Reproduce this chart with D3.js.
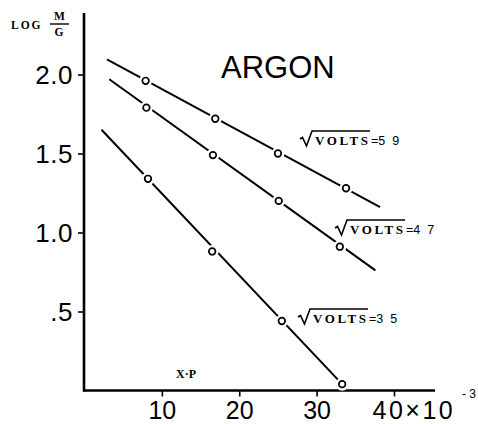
<!DOCTYPE html>
<html>
<head>
<meta charset="utf-8">
<script src="https://cdn.jsdelivr.net/npm/d3@7"></script>
<style>
  html, body { margin: 0; padding: 0; background: #fff; }
  svg { display: block; }
</style>
</head>
<body>
<svg id="chart" width="478" height="424"></svg>
<script>
// ---- data ----
const seriesNames = ["5 9", "4 7", "3 5"];               // sqrt(volts) labels
const xpValues59 = [7.9, 16.9, 25.0, 33.8];
const logMG59    = [1.96, 1.72, 1.50, 1.28];
const xpValues47 = [8.0, 16.6, 25.1, 33.0];
const logMG47    = [1.79, 1.49, 1.20, 0.91];
const xpValues35 = [8.2, 16.5, 25.5, 33.3];
const logMG35    = [1.34, 0.88, 0.44, 0.04];
// fitted (hand-drawn) line end points [x, y]
const fitLine59 = [[2.9, 2.095], [38.2, 1.16]];
const fitLine47 = [[3.2, 1.97], [37.6, 0.76]];
const fitLine35 = [[2.2, 1.65], [33.3, 0.04]];
const yTickValues = [0.5, 1.0, 1.5, 2.0];
const yTickLabels = [".5", "1.0", "1.5", "2.0"];
const xTickValues = [10, 20, 30, 40];
const xTickLabels = ["10", "20", "30", "40"];
const xAxisMax = 45.3, yAxisMax = 2.39;

const svg = d3.select("#chart");
const x = d3.scaleLinear().domain([0, 40]).range([84.5, 394]);
const y = d3.scaleLinear().domain([0, 2]).range([390.5, 74.5]);

const sans = "'Liberation Sans', Arial, sans-serif";
const serif = "'Liberation Serif', 'DejaVu Serif', serif";

// ---- axes ----
const yAxis = d3.axisLeft(y).tickValues(yTickValues)
  .tickFormat((d, i) => yTickLabels[i]).tickSize(6).tickPadding(5);
const gy = svg.append("g").attr("transform", `translate(${x(0) - 0.5},0)`).call(yAxis);
gy.select(".domain").remove();
gy.selectAll(".tick line").attr("stroke", "#000").attr("stroke-width", 1.6);
gy.selectAll(".tick text").attr("font-family", sans).attr("font-size", 26)
  .attr("letter-spacing", 0.5).attr("fill", "#000").attr("dy", "0.36em");

const xAxis = d3.axisBottom(x).tickValues(xTickValues)
  .tickFormat((d, i) => xTickLabels[i]).tickSize(6).tickPadding(5);
const gx = svg.append("g").attr("transform", `translate(0,${y(0)})`).call(xAxis);
gx.select(".domain").remove();
gx.selectAll(".tick line").attr("stroke", "#000").attr("stroke-width", 1.6);
gx.selectAll(".tick text").attr("font-family", sans).attr("font-size", 25)
  .attr("fill", "#000").attr("dy", "0.71em");
// "40" followed by ×10
gx.selectAll(".tick").filter(d => d === 40).select("text")
  .attr("text-anchor", "start").attr("x", -22).attr("letter-spacing", 2.5).text("40×10");

svg.append("text").attr("x", 476).attr("y", 398).attr("text-anchor", "end")
  .attr("font-family", sans).attr("font-size", 12).attr("fill", "#000")
  .style("white-space", "pre").text("- 3");

// axis lines
svg.append("line").attr("x1", x(0) - 0.5).attr("x2", x(0) - 0.5)
  .attr("y1", y(yAxisMax)).attr("y2", y(0) + 1)
  .attr("stroke", "#000").attr("stroke-width", 2.6);
svg.append("line").attr("x1", x(0) - 1.5).attr("x2", x(xAxisMax))
  .attr("y1", y(0)).attr("y2", y(0))
  .attr("stroke", "#000").attr("stroke-width", 2.6);

// ---- series ----
const series = [
  { name: seriesNames[0], xs: xpValues59, ys: logMG59, line: fitLine59 },
  { name: seriesNames[1], xs: xpValues47, ys: logMG47, line: fitLine47 },
  { name: seriesNames[2], xs: xpValues35, ys: logMG35, line: fitLine35 }
];
const lineGen = d3.line().x(d => x(d[0])).y(d => y(d[1]));
series.forEach(s => {
  svg.append("path").attr("d", lineGen(s.line)).attr("fill", "none")
    .attr("stroke", "#000").attr("stroke-width", 2);
  const pts = s.xs.map((v, i) => [v, s.ys[i]]);
  svg.selectAll(null).data(pts).enter().append("circle")
    .attr("cx", d => x(d[0])).attr("cy", d => y(d[1])).attr("r", 6.5)
    .attr("fill", "#fff");
  svg.selectAll(null).data(pts).enter().append("circle")
    .attr("cx", d => x(d[0])).attr("cy", d => y(d[1])).attr("r", 3.3)
    .attr("fill", "#fff").attr("stroke", "#000").attr("stroke-width", 1.7);
});

// ---- series labels ----
function voltsLabel(px, py, val) {
  const g = svg.append("g").attr("transform", `translate(${px},${py})`);
  g.append("path")
    .attr("d", "M0,-6 L2.5,-7.5 L6.5,1 L12,-14 H70")
    .attr("fill", "none").attr("stroke", "#000").attr("stroke-width", 1.6);
  g.append("text").attr("x", 15).attr("y", 0).attr("font-family", serif)
    .attr("font-size", 13).attr("font-weight", "bold").attr("letter-spacing", 2.6)
    .attr("fill", "#000").text("VOLTS");
  g.append("text").attr("x", 71).attr("y", 0).attr("font-family", sans)
    .attr("font-size", 12.5).attr("fill", "#000")
    .style("white-space", "pre").text("=" + val.replace(" ", "  "));
}
voltsLabel(300, 145, series[0].name);
voltsLabel(335, 234, series[1].name);
voltsLabel(298, 323, series[2].name);

// ---- titles ----
svg.append("text").attr("x", 221).attr("y", 78).attr("font-family", sans)
  .attr("font-size", 31).attr("fill", "#000").text("ARGON");

svg.append("text").attr("x", 11).attr("y", 29).attr("font-family", serif)
  .attr("font-size", 11.5).attr("font-weight", "bold").attr("letter-spacing", 2)
  .attr("fill", "#000").text("LOG");
svg.append("text").attr("x", 59.5).attr("y", 20).attr("text-anchor", "middle")
  .attr("font-family", serif).attr("font-size", 11.5).attr("font-weight", "bold")
  .attr("fill", "#000").text("M");
svg.append("line").attr("x1", 50).attr("x2", 69).attr("y1", 24).attr("y2", 24)
  .attr("stroke", "#000").attr("stroke-width", 1.4);
svg.append("text").attr("x", 59).attr("y", 36).attr("text-anchor", "middle")
  .attr("font-family", serif).attr("font-size", 11.5).attr("font-weight", "bold")
  .attr("fill", "#000").text("G");

svg.append("text").attr("x", 176).attr("y", 378).attr("font-family", serif)
  .attr("font-size", 12).attr("font-weight", "bold").attr("fill", "#000").text("X·P");
</script>
</body>
</html>
